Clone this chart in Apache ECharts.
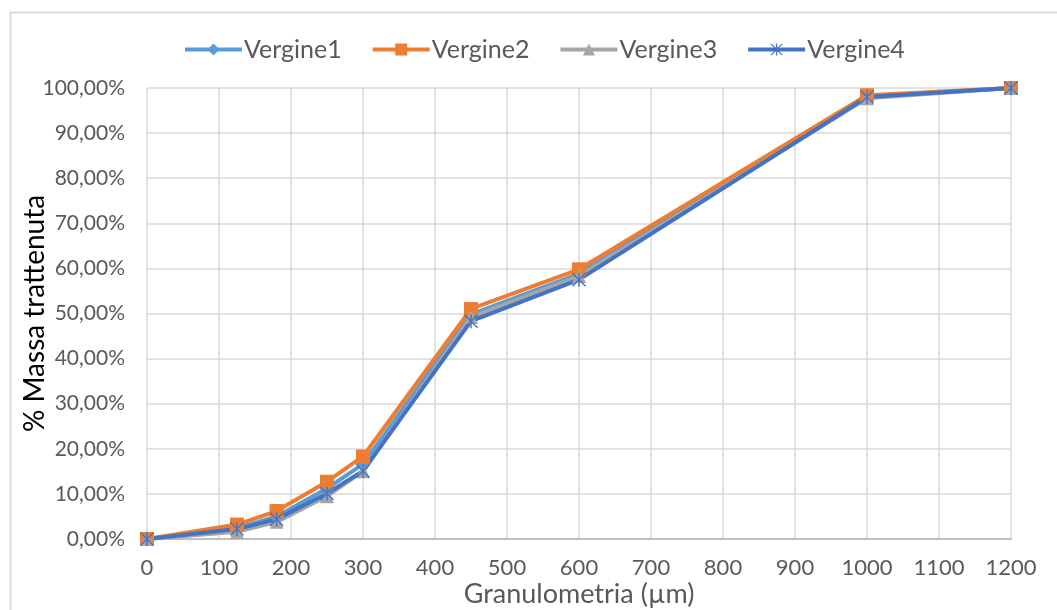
<!DOCTYPE html>
<html>
<head>
<meta charset="utf-8">
<script src="https://cdn.jsdelivr.net/npm/echarts@6/dist/echarts.min.js"></script>
<style>
  html, body { margin: 0; padding: 0; background: #ffffff; }
  #chart { width: 1057px; height: 610px; }
</style>
</head>
<body>
<div id="chart"></div>
<script>
// Granulometric curves: cumulative retained mass (%) by sieve size (µm)
const sieveSizes = [0, 125, 180, 250, 300, 450, 600, 1000, 1200];
const vergine1 = [0, 2.4, 5.0, 11.2, 16.6, 49.8, 58.8, 98.1, 100];
const vergine2 = [0, 3.2, 6.2, 12.7, 18.3, 51.0, 59.8, 98.4, 100];
const vergine3 = [0, 1.6, 3.8, 9.5, 15.0, 49.2, 58.3, 97.7, 100];
const vergine4 = [0, 2.2, 4.4, 10.1, 15.1, 48.3, 57.5, 98.0, 100];
const seriesNames = ['Vergine1', 'Vergine2', 'Vergine3', 'Vergine4'];

const FONT = 'Lato, "Liberation Sans", sans-serif';
const TEXT = '#595959';

// Six-armed asterisk marker built from three filled bars
const asterisk = 'path://M4.5 0L5.5 0L5.5 10L4.5 10Z' +
  'M0 0.7L0.7 0L10 9.3L9.3 10Z' +
  'M9.3 0L10 0.7L0.7 10L0 9.3Z';

function pairs(vals) {
  return sieveSizes.map((x, i) => [x, vals[i]]);
}

function lineSeries(name, vals, color, symbol, size) {
  return {
    name: name,
    type: 'line',
    data: pairs(vals),
    symbol: symbol,
    symbolSize: size,
    showAllSymbol: true,
    lineStyle: { color: color, width: 4 },
    itemStyle: { color: color, borderWidth: 0 },
    emphasis: { disabled: true },
    animation: false
  };
}

const chart = echarts.init(document.getElementById('chart'), null, { renderer: 'canvas' });

chart.setOption({
  backgroundColor: '#ffffff',
  animation: false,
  graphic: [{
    type: 'rect',
    left: 8, top: 10,
    shape: { width: 1200, height: 800 },
    style: { fill: 'none', stroke: '#d9d9d9', lineWidth: 2 },
    silent: true
  }],
  legend: {
    left: 178,
    top: 32,
    itemWidth: 57,
    itemHeight: 15,
    itemGap: 29,
    lineStyle: { width: 4 },
    textStyle: { fontFamily: FONT, fontSize: 25, color: TEXT, padding: [0, 0, 0, -3] },
    data: seriesNames
  },
  grid: { left: 147, right: 46, top: 88, bottom: 71, containLabel: false, outerBoundsMode: 'none' },
  xAxis: {
    type: 'value',
    min: 0, max: 1200, interval: 100,
    name: 'Granulometria (µm)',
    nameLocation: 'middle',
    nameGap: 42,
    nameMoveOverlap: false,
    nameTextStyle: { fontFamily: FONT, fontSize: 27, color: TEXT },
    axisLine: { show: true, lineStyle: { color: '#bfbfbf', width: 2 } },
    axisTick: { show: false },
    axisLabel: {
      fontFamily: FONT, fontSize: 22, color: TEXT, margin: 18,
      formatter: v => String(v)
    },
    splitLine: { show: true, lineStyle: { color: '#d9d9d9', width: 1.5 } }
  },
  yAxis: {
    type: 'value',
    min: 0, max: 100, interval: 10,
    name: '% Massa trattenuta',
    nameLocation: 'middle',
    nameGap: 98,
    nameMoveOverlap: false,
    nameTextStyle: { fontFamily: FONT, fontSize: 28, color: '#000000' },
    axisLine: { show: false },
    axisTick: { show: false },
    axisLabel: {
      fontFamily: FONT, fontSize: 21, color: TEXT, margin: 22,
      formatter: v => v.toFixed(2).replace('.', ',') + '%'
    },
    splitLine: { show: true, lineStyle: { color: '#d9d9d9', width: 1.5 } }
  },
  series: [
    lineSeries('Vergine1', vergine1, '#5B9BD5', 'diamond', 15),
    lineSeries('Vergine2', vergine2, '#ED7D31', 'rect', 14),
    lineSeries('Vergine3', vergine3, '#A5A5A5', 'triangle', 14),
    lineSeries('Vergine4', vergine4, '#4472C4', asterisk, 14)
  ]
});
</script>
</body>
</html>
